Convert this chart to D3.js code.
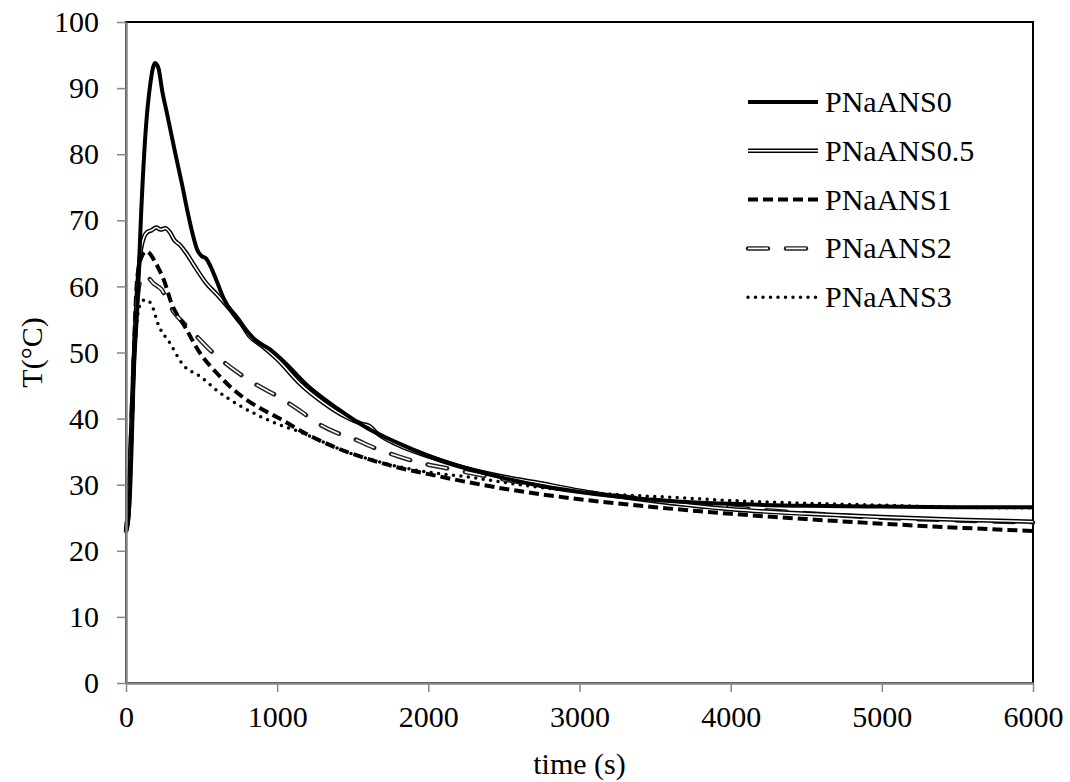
<!DOCTYPE html>
<html>
<head>
<meta charset="utf-8">
<script src="https://cdn.jsdelivr.net/npm/d3@7"></script>
<style>
  html, body { margin: 0; padding: 0; background: #fff; }
  svg { display: block; }
  text { font-family: "Liberation Serif", "Times New Roman", serif; fill: #000; }
</style>
</head>
<body>
<svg id="chart" width="1070" height="782"></svg>
<script>
// Temperature vs time for each sample
const timeS0 = [0, 10, 25, 40, 50, 75, 100, 130, 160, 192, 215, 240, 270, 300, 330, 370, 410, 440, 470, 500, 530, 560, 600, 650, 710, 780, 850, 950, 1050, 1200, 1400, 1600, 1800, 2000, 2250, 2500, 2750, 3000, 3500, 4000, 4500, 5000, 5500, 6000];
const tempS0 = [23, 24, 28, 38, 46, 57, 71, 83.5, 90.5, 93.8, 93, 89.5, 86.3, 83, 79.7, 75.5, 71, 68, 65.6, 64.6, 64.2, 63, 60.8, 58, 55.8, 53.8, 52, 50.5, 48.5, 45, 41.5, 38.5, 36.3, 34.4, 32.5, 31, 29.8, 28.9, 27.7, 27.1, 26.8, 26.7, 26.6, 26.6];

const timeS05 = [0, 15, 30, 50, 70, 95, 120, 140, 170, 200, 230, 260, 290, 320, 360, 400, 450, 530, 600, 670, 750, 820, 900, 1000, 1150, 1300, 1450, 1560, 1610, 1650, 1800, 2000, 2250, 2500, 2700, 3000, 3500, 4000, 4500, 5000, 5500, 6000];
const tempS05 = [23, 25, 35, 48, 58, 65, 67.5, 68.2, 68.5, 68.9, 68.6, 68.8, 68.2, 67, 66.2, 65, 63.2, 60.5, 58.8, 57, 54.8, 52.4, 51, 49, 45.3, 42.5, 40.3, 39.2, 38.9, 38, 36, 34.3, 32.5, 31.2, 30.4, 29.1, 27.5, 26.3, 25.6, 25.1, 24.7, 24.4];

const timeS1 = [0, 20, 40, 55, 70, 90, 110, 130, 160, 190, 220, 250, 300, 390, 490, 600, 700, 800, 900, 1000, 1200, 1400, 1600, 1800, 2000, 2500, 3000, 3500, 4000, 4500, 5000, 5500, 6000];
const tempS1 = [23, 30, 40, 52, 60, 63.5, 64.8, 65.3, 64.9, 63.8, 62.5, 61, 57.5, 53.9, 49.9, 46.9, 44.6, 42.8, 41.4, 40.2, 37.6, 35.5, 33.9, 32.6, 31.6, 29.4, 27.8, 26.6, 25.6, 24.8, 24.1, 23.5, 23.0];

const timeS2 = [0, 20, 40, 60, 80, 100, 120, 150, 180, 210, 236, 270, 320, 380, 445, 555, 650, 750, 850, 1000, 1150, 1260, 1400, 1500, 1650, 1800, 1965, 2120, 2500, 3000, 3500, 4000, 4500, 5000, 5500, 6000];
const tempS2 = [23, 28, 42, 53, 59, 61.3, 61.8, 61.3, 60.5, 60, 59.5, 58, 56, 54.5, 53, 50.4, 48.5, 46.8, 45.3, 43.4, 41.2, 39.4, 37.8, 37, 35.5, 34.3, 33.2, 32.5, 30.8, 29, 27.7, 26.6, 25.7, 25, 24.6, 24.3];

const timeS3 = [0, 20, 40, 60, 80, 100, 126, 150, 170, 214, 291, 379, 489, 610, 750, 900, 1000, 1150, 1300, 1480, 1650, 1810, 2000, 2250, 2700, 3135, 3685, 4000, 4500, 5000, 5500, 6000];
const tempS3 = [23, 30, 42, 51, 56, 57.5, 58, 57.8, 57.2, 54.2, 51.4, 48.1, 46.4, 44.1, 42, 40.2, 39.2, 38, 36.5, 34.8, 33.6, 32.7, 31.9, 31.2, 29.7, 28.7, 28, 27.6, 27.2, 26.9, 26.6, 26.5];

const seriesNames = ["PNaANS0", "PNaANS0.5", "PNaANS1", "PNaANS2", "PNaANS3"];
const xTicks = [0, 1000, 2000, 3000, 4000, 5000, 6000];
const yTicks = [0, 10, 20, 30, 40, 50, 60, 70, 80, 90, 100];

const series = [
  { name: seriesNames[0], t: timeS0, v: tempS0, style: "solid" },
  { name: seriesNames[1], t: timeS05, v: tempS05, style: "double" },
  { name: seriesNames[2], t: timeS1, v: tempS1, style: "dash" },
  { name: seriesNames[3], t: timeS2, v: tempS2, style: "doubleDash" },
  { name: seriesNames[4], t: timeS3, v: tempS3, style: "dot" }
];

const svg = d3.select("#chart");
const plotLeft = 126, plotRight = 1033, plotTop = 22, plotBottom = 683;

const x = d3.scaleLinear().domain([0, 6000]).range([plotLeft, plotRight]);
const y = d3.scaleLinear().domain([0, 100]).range([plotBottom, plotTop]);

// plot frame
svg.append("rect")
  .attr("x", plotLeft).attr("y", plotTop)
  .attr("width", plotRight - plotLeft).attr("height", plotBottom - plotTop)
  .attr("fill", "none").attr("stroke", "#000").attr("stroke-width", 2);

const line = d3.line().x(d => x(d[0])).y(d => y(d[1])).curve(d3.curveMonotoneX);

function drawStyled(g, pathData, style) {
  if (style === "solid") {
    g.append("path").attr("d", pathData).attr("fill", "none")
      .attr("stroke", "#000").attr("stroke-width", 4).attr("stroke-linejoin", "round");
  } else if (style === "double") {
    g.append("path").attr("d", pathData).attr("fill", "none")
      .attr("stroke", "#000").attr("stroke-width", 4.5).attr("stroke-linejoin", "round");
    g.append("path").attr("d", pathData).attr("fill", "none")
      .attr("stroke", "#fff").attr("stroke-width", 1.6).attr("stroke-linejoin", "round");
  } else if (style === "dash") {
    g.append("path").attr("d", pathData).attr("fill", "none")
      .attr("stroke", "#000").attr("stroke-width", 4)
      .attr("stroke-dasharray", "10,5");
  } else if (style === "doubleDash") {
    g.append("path").attr("d", pathData).attr("fill", "none")
      .attr("stroke", "#222").attr("stroke-width", 4.5).attr("stroke-linecap", "round")
      .attr("stroke-dasharray", "20,18");
    g.append("path").attr("d", pathData).attr("fill", "none")
      .attr("stroke", "#fff").attr("stroke-width", 1.6)
      .attr("stroke-dasharray", "20,18");
  } else if (style === "dot") {
    g.append("path").attr("d", pathData).attr("fill", "none")
      .attr("stroke", "#000").attr("stroke-width", 3.5).attr("stroke-linecap", "round")
      .attr("stroke-dasharray", "0,7.5");
  }
}

const plot = svg.append("g");
// draw in reverse so the heavy solid curve sits on top
series.slice().reverse().forEach(s => {
  const pts = s.t.map((t, i) => [t, s.v[i]]);
  drawStyled(plot, line(pts), s.style);
});

// axes
const xAxis = d3.axisBottom(x).tickValues(xTicks).tickFormat(d3.format("d"))
  .tickSize(9).tickSizeOuter(0).tickPadding(14);
const yAxis = d3.axisLeft(y).tickValues(yTicks).tickFormat(d3.format("d"))
  .tickSize(9).tickSizeOuter(0).tickPadding(18);

const gx = svg.append("g").attr("transform", `translate(0,${plotBottom})`).call(xAxis);
const gy = svg.append("g").attr("transform", `translate(${plotLeft},0)`).call(yAxis);
[gx, gy].forEach(g => {
  g.select(".domain").attr("stroke", "#868686").attr("stroke-width", 2.5);
  g.selectAll(".tick line").attr("stroke", "#868686").attr("stroke-width", 1.5);
  g.selectAll(".tick text").attr("font-size", 30).attr("fill", "#000");
});

// axis titles
svg.append("text").attr("x", (plotLeft + plotRight) / 2).attr("y", 774)
  .attr("text-anchor", "middle").attr("font-size", 30).text("time (s)");
svg.append("text").attr("transform", `translate(42,${(plotTop + plotBottom) / 2}) rotate(-90)`)
  .attr("text-anchor", "middle").attr("font-size", 30).attr("fill", "#000").text("T(°C)");

// legend
const legend = svg.append("g");
const legX0 = 748, legX1 = 818, legY0 = 102, legStep = 48.8;
series.forEach((s, i) => {
  const yy = legY0 + i * legStep;
  drawStyled(legend, `M${legX0},${yy}L${legX1},${yy}`, s.style);
  legend.append("text").attr("x", 825).attr("y", yy + 10)
    .attr("font-size", 30).text(s.name);
});
</script>
</body>
</html>
